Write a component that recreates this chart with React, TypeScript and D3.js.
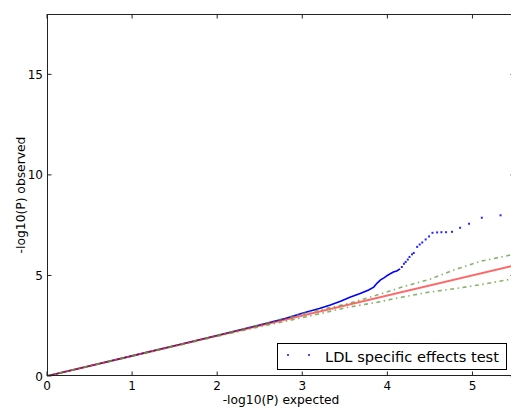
import React from "react";
import * as d3 from "d3";

// dense part of the observed QQ series
const denseExpected = [0, 0.5, 1, 1.5, 2, 2.5, 2.8, 3.0, 3.2, 3.33, 3.45, 3.56, 3.68, 3.78, 3.84, 3.88, 3.92, 3.96, 4.0, 4.04, 4.07, 4.11, 4.15];
const denseObserved = [0, 0.5, 1, 1.5, 2.01, 2.54, 2.86, 3.12, 3.36, 3.53, 3.72, 3.92, 4.1, 4.28, 4.42, 4.62, 4.78, 4.88, 5.0, 5.1, 5.17, 5.22, 5.33];
// sparse tail points
const tailExpected = [4.17, 4.195, 4.215, 4.24, 4.26, 4.29, 4.31, 4.35, 4.38, 4.41, 4.45, 4.49, 4.53, 4.585, 4.635, 4.69, 4.76, 4.855, 4.96, 5.11, 5.33];
const tailObserved = [5.42, 5.58, 5.67, 5.79, 5.92, 6.05, 6.12, 6.42, 6.54, 6.64, 6.79, 6.94, 7.12, 7.14, 7.15, 7.15, 7.17, 7.37, 7.57, 7.87, 7.99];
// confidence band
const ciExpected = [0, 1, 2, 2.5, 3.0, 3.54, 3.86, 4.17, 4.49, 4.8, 5.11, 5.43, 5.5];
const ciUpper = [0, 1, 2.02, 2.55, 3.1, 3.6, 4.0, 4.42, 4.8, 5.3, 5.72, 6.0, 6.05];
const ciLower = [0, 0.98, 1.97, 2.45, 2.9, 3.42, 3.65, 3.92, 4.17, 4.35, 4.55, 4.8, 4.84];
// diagonal
const diagX = [0, 5.5];

const xTicks = [0, 1, 2, 3, 4, 5];
const yTicks = [0, 5, 10, 15];
const xLabel = "-log10(P) expected";
const yLabel = "-log10(P) observed";
const legendLabel = "LDL specific effects test";

export default function App() {
  const W = 511, H = 410;
  const left = 47, right = 515, top = 14, bottom = 376;
  const x = d3.scaleLinear().domain([0, 5.5]).range([left, right]);
  const y = d3.scaleLinear().domain([0, 18]).range([bottom, top]);
  const line = d3.line<[number, number]>().x(d => x(d[0])).y(d => y(d[1]));
  const dense = line(denseExpected.map((v, i) => [v, denseObserved[i]]) as [number, number][]) || "";
  const upper = line(ciExpected.map((v, i) => [v, ciUpper[i]]) as [number, number][]) || "";
  const lower = line(ciExpected.map((v, i) => [v, ciLower[i]]) as [number, number][]) || "";
  const diag = line(diagX.map(v => [v, v]) as [number, number][]) || "";
  const font = "'DejaVu Sans', sans-serif";
  const tl = 4.5;
  const spine = "#222";
  return (
    <svg width={W} height={H} style={{ position: "absolute", left: 0, top: 0, background: "#fff" }}>
      <defs>
        <clipPath id="plotclip">
          <rect x={left} y={top} width={right - left} height={bottom - top} />
        </clipPath>
      </defs>
      <rect x={0} y={0} width={W} height={H} fill="#fff" />
      <g clipPath="url(#plotclip)">
        <path d={dense} fill="none" stroke="#0000ff" strokeWidth={1.6} />
        {tailExpected.map((v, i) => (
          <rect key={i} x={x(v) - 1} y={y(tailObserved[i]) - 1} width={2} height={2} fill="#0000ff" fillOpacity={0.85} />
        ))}
        <path d={diag} fill="none" stroke="#ff0000" strokeOpacity={0.6} strokeWidth={2} />
        <path d={upper} fill="none" stroke="#5f9a3c" strokeOpacity={0.75} strokeWidth={1.6} strokeDasharray="4 3.5 1.5 3.5" />
        <path d={lower} fill="none" stroke="#5f9a3c" strokeOpacity={0.75} strokeWidth={1.6} strokeDasharray="4 3.5 1.5 3.5" />
      </g>
      {/* spines */}
      <rect x={left + 0.5} y={top + 0.5} width={right - left - 1} height={bottom - top - 1} fill="none" stroke={spine} strokeWidth={1} />
      {/* x ticks */}
      {xTicks.map(t => (
        <g key={"x" + t}>
          <line x1={x(t)} x2={x(t)} y1={bottom} y2={bottom - tl} stroke={spine} />
          <line x1={x(t)} x2={x(t)} y1={top} y2={top + tl} stroke={spine} />
          <text x={x(t)} y={390} textAnchor="middle" fontFamily={font} fontSize={12} fill="#000">{t}</text>
        </g>
      ))}
      {yTicks.map(t => (
        <g key={"y" + t}>
          <line x1={left} x2={left + tl} y1={y(t)} y2={y(t)} stroke={spine} />
          <line x1={right} x2={right - tl} y1={y(t)} y2={y(t)} stroke={spine} />
          <text x={43} y={y(t) + 4.5} textAnchor="end" fontFamily={font} fontSize={12} fill="#000">{t}</text>
        </g>
      ))}
      <text x={(left + right) / 2} y={404} textAnchor="middle" fontFamily={font} fontSize={12.3} fill="#000">{xLabel}</text>
      <text transform={`translate(25, ${(top + bottom) / 2}) rotate(-90)`} textAnchor="middle" fontFamily={font} fontSize={12.3} fill="#000">{yLabel}</text>
      {/* legend */}
      <g>
        <rect x={277.5} y={343.5} width={229} height={26} fill="#fff" stroke="#000" strokeWidth={1} />
        <rect x={287} y={354} width={2} height={2} fill="#0000ff" fillOpacity={0.7} />
        <rect x={308} y={354} width={2} height={2} fill="#0000ff" fillOpacity={0.7} />
        <text x={325} y={362} fontFamily={font} fontSize={14.6} fill="#000">{legendLabel}</text>
      </g>
    </svg>
  );
}
